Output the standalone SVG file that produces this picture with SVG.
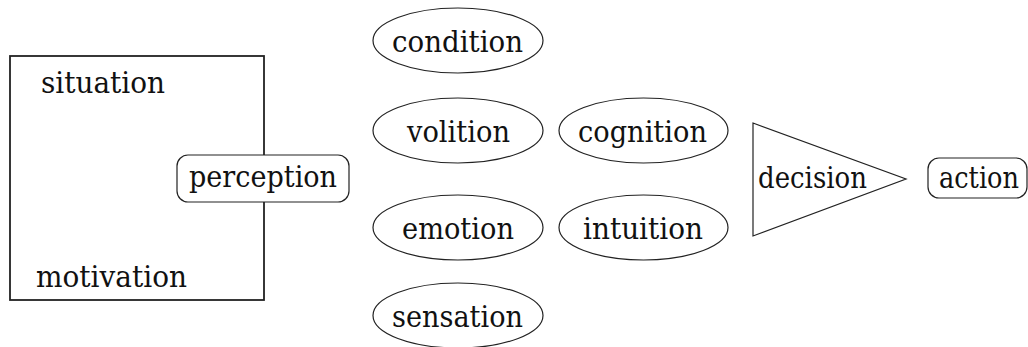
<svg xmlns="http://www.w3.org/2000/svg" width="1028" height="347" viewBox="0 0 1028 347">
<style>
  text { font-family: "DejaVu Serif", "Liberation Serif", serif; font-size: 29px; fill: #111; text-anchor: middle; }
  .shape { fill: #fff; stroke: #222; stroke-width: 1.2; }
  .box { fill: none; stroke: #222; stroke-width: 1.8; }
</style>
<rect width="1028" height="347" fill="#fff"/>
<g id="situation-box">
  <rect class="box" x="10" y="56" width="254" height="244"/>
  <text x="103" y="93" textLength="124" lengthAdjust="spacingAndGlyphs">situation</text>
  <text x="111.5" y="287" textLength="151" lengthAdjust="spacingAndGlyphs">motivation</text>
</g>
<g id="perception">
  <rect class="shape" x="177" y="155" width="172" height="47" rx="11" ry="11"/>
  <text x="263" y="187" textLength="148" lengthAdjust="spacingAndGlyphs">perception</text>
</g>
<g id="condition">
  <ellipse class="shape" cx="458" cy="40.5" rx="85" ry="32.5"/>
  <text x="457.5" y="52" textLength="131" lengthAdjust="spacingAndGlyphs">condition</text>
</g>
<g id="volition">
  <ellipse class="shape" cx="458" cy="130.5" rx="85" ry="32.5"/>
  <text x="458.5" y="141.5" textLength="103" lengthAdjust="spacingAndGlyphs">volition</text>
</g>
<g id="cognition">
  <ellipse class="shape" cx="643.5" cy="130.5" rx="84.5" ry="32.5"/>
  <text x="642.5" y="141.5" textLength="129" lengthAdjust="spacingAndGlyphs">cognition</text>
</g>
<g id="emotion">
  <ellipse class="shape" cx="458" cy="227.5" rx="85" ry="32.5"/>
  <text x="458" y="238.5" textLength="112" lengthAdjust="spacingAndGlyphs">emotion</text>
</g>
<g id="intuition">
  <ellipse class="shape" cx="643.5" cy="227.5" rx="84.5" ry="32.5"/>
  <text x="643" y="238.5" textLength="120" lengthAdjust="spacingAndGlyphs">intuition</text>
</g>
<g id="sensation">
  <ellipse class="shape" cx="458" cy="315.5" rx="85" ry="32.5"/>
  <text x="457.5" y="326.5" textLength="131" lengthAdjust="spacingAndGlyphs">sensation</text>
</g>
<g id="decision">
  <polygon class="shape" points="753,123 906,179 753,236"/>
  <text x="812.5" y="188" textLength="109" lengthAdjust="spacingAndGlyphs">decision</text>
</g>
<g id="action">
  <rect class="shape" x="928" y="158" width="99" height="40" rx="11" ry="11"/>
  <text x="979" y="188" textLength="80" lengthAdjust="spacingAndGlyphs">action</text>
</g>
<g id="connectors"></g>
</svg>
